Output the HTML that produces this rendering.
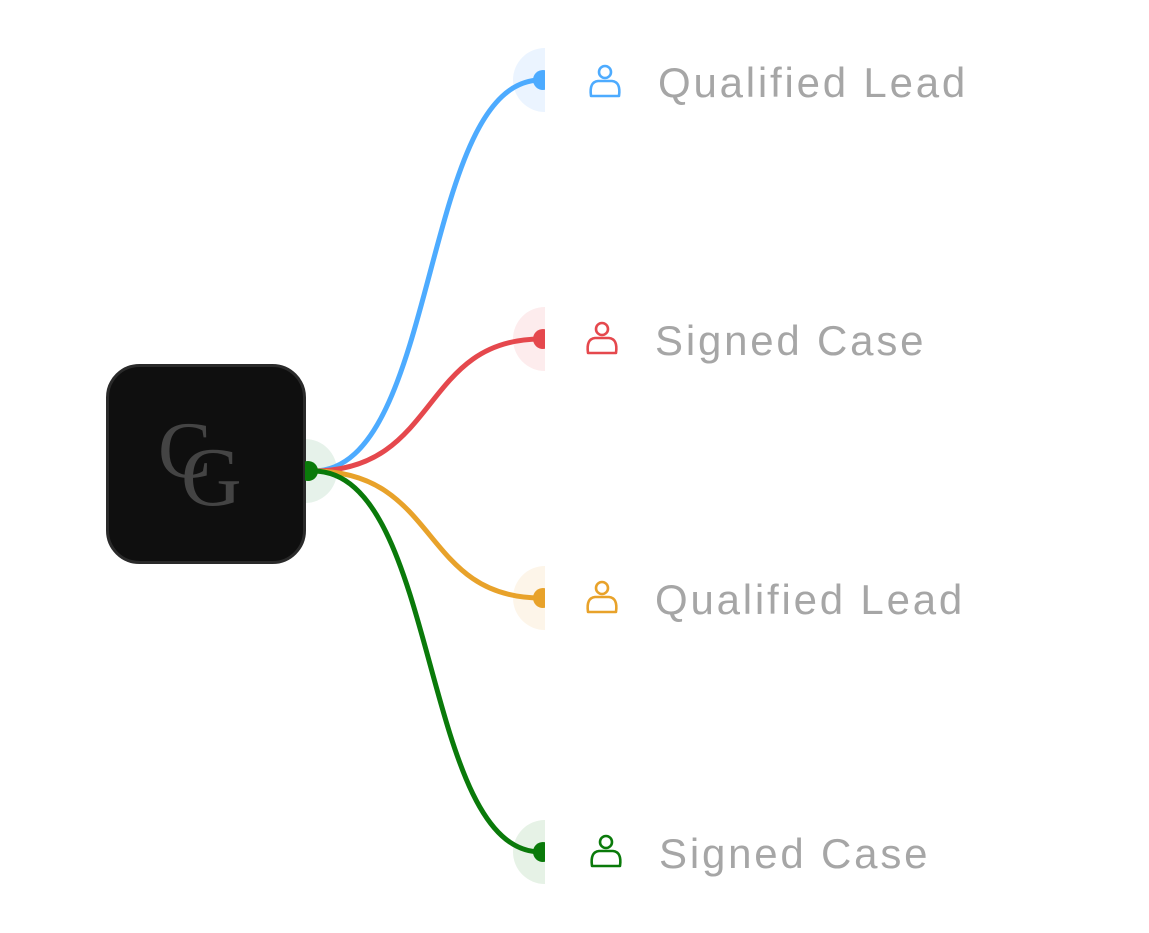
<!DOCTYPE html>
<html><head><style>
body{margin:0;width:1149px;height:933px;background:#fff;overflow:hidden;position:relative;font-family:"Liberation Sans",sans-serif}
.t{position:absolute;font-size:42px;letter-spacing:2.8px;color:#a6a6a6;line-height:1}
</style></head><body>
<svg width="1149" height="933" style="position:absolute;left:0;top:0">
<defs>
<clipPath id="l"><rect x="0" y="0" width="545" height="933"/></clipPath>
<clipPath id="r"><rect x="305" y="0" width="800" height="933"/></clipPath>
</defs>
<g clip-path="url(#l)">
<circle cx="545" cy="80" r="32" fill="#ebf4ff"/>
<circle cx="545" cy="339" r="32" fill="#fdeced"/>
<circle cx="545" cy="598" r="32" fill="#fdf5e9"/>
<circle cx="545" cy="852" r="32" fill="#e6f2e6"/>
</g>
<circle cx="305" cy="471" r="32" fill="#e6f2ea" clip-path="url(#r)"/>
<rect x="107.5" y="365.5" width="197" height="197" rx="32" fill="#0f0f0f" stroke="#2a2a2a" stroke-width="3"/>
<text x="158" y="477" font-family="Liberation Serif,serif" font-size="80" fill="#444">C</text>
<text x="181" y="505" font-family="Liberation Serif,serif" font-size="84" fill="#444">G</text>
<g fill="none" stroke-width="5" stroke-linecap="round">
<path d="M313 471 C440 471 420 80 541 80" stroke="#4dabff"/>
<path d="M313 471 C440 471 420 339 541 339" stroke="#e5484d"/>
<path d="M313 471 C440 471 420 598 541 598" stroke="#e8a22a"/>
<path d="M313 471 C440 471 420 852 541 852" stroke="#0a7a0a"/>
</g>
<circle cx="308" cy="471" r="10" fill="#0a7a0a" clip-path="url(#r)"/>
<g clip-path="url(#l)">
<circle cx="543" cy="80" r="10" fill="#4dabff"/>
<circle cx="543" cy="339" r="10" fill="#e5484d"/>
<circle cx="543" cy="598" r="10" fill="#e8a22a"/>
<circle cx="543" cy="852" r="10" fill="#0a7a0a"/>
</g>
<g fill="none" stroke-width="2.6">
<g stroke="#4dabff" transform="translate(605,82)"><circle cx="0" cy="-10" r="6"/><path d="M-14 14 Q-16 0 -7 -1 L7 -1 Q16 0 14 14 Z" stroke-linejoin="round"/></g>
<g stroke="#e5484d" transform="translate(602,339)"><circle cx="0" cy="-10" r="6"/><path d="M-14 14 Q-16 0 -7 -1 L7 -1 Q16 0 14 14 Z" stroke-linejoin="round"/></g>
<g stroke="#e8a22a" transform="translate(602,598)"><circle cx="0" cy="-10" r="6"/><path d="M-14 14 Q-16 0 -7 -1 L7 -1 Q16 0 14 14 Z" stroke-linejoin="round"/></g>
<g stroke="#0a7a0a" transform="translate(606,852)"><circle cx="0" cy="-10" r="6"/><path d="M-14 14 Q-16 0 -7 -1 L7 -1 Q16 0 14 14 Z" stroke-linejoin="round"/></g>
</g>
</svg>
<div class="t" style="left:658px;top:62px">Qualified Lead</div>
<div class="t" style="left:655px;top:320px">Signed Case</div>
<div class="t" style="left:655px;top:579px">Qualified Lead</div>
<div class="t" style="left:659px;top:833px">Signed Case</div>
</body></html>
